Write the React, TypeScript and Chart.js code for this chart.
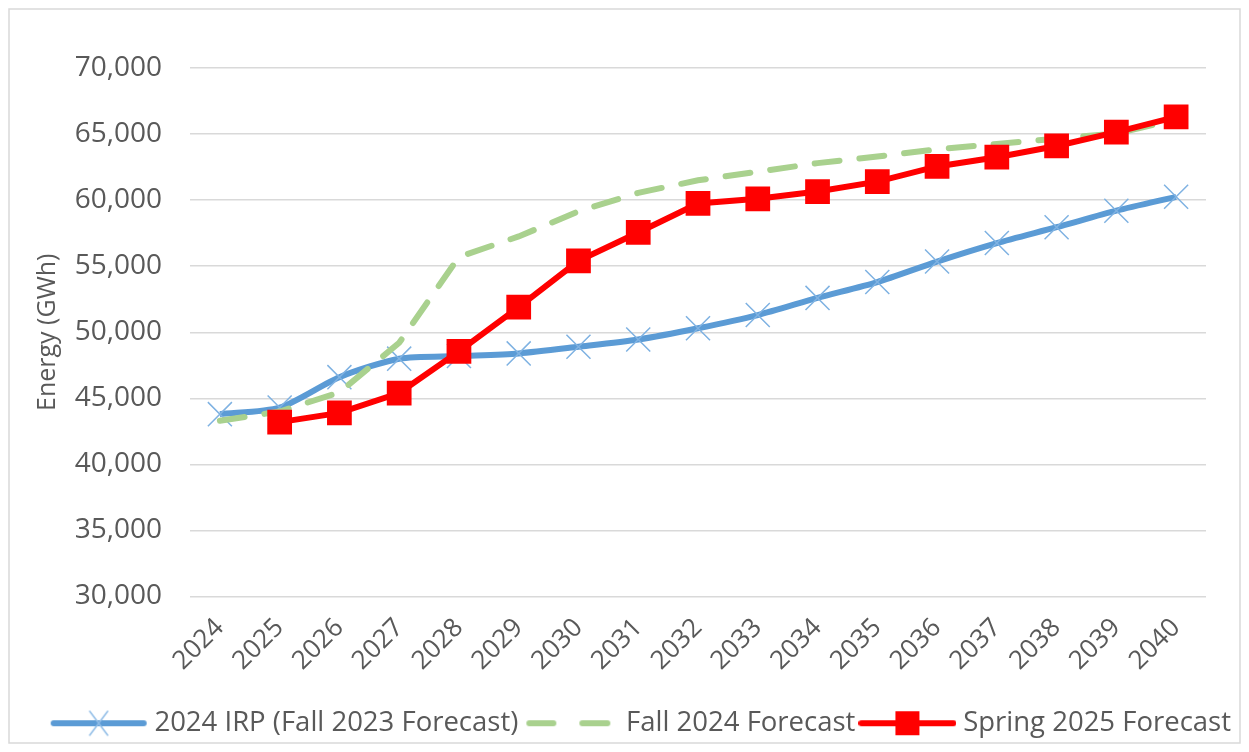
import React, { useEffect, useRef } from "react";
import { Chart, registerables } from "chart.js";

Chart.register(...registerables);

const years = ["2024", "2025", "2026", "2027", "2028", "2029", "2030", "2031", "2032", "2033", "2034", "2035", "2036", "2037", "2038", "2039", "2040"];
const irpFall2023 = [43800, 44300, 46600, 48000, 48200, 48400, 48900, 49450, 50300, 51300, 52600, 53800, 55350, 56750, 57950, 59200, 60250];
const fall2024 = [43300, 44000, 45450, 49200, 55700, 57250, 59150, 60550, 61500, 62150, 62800, 63300, 63850, 64250, 64650, 65050, 66100];
const spring2025 = [null, 43200, 43900, 45400, 48550, 51900, 55400, 57550, 59750, 60100, 60650, 61400, 62550, 63250, 64100, 65150, 66300];

const seriesNames = ["2024 IRP (Fall 2023 Forecast)", "Fall 2024 Forecast", "Spring 2025 Forecast"];
const yMin = 30000;
const yMax = 70000;
const yStep = 5000;
const yTitle = "Energy (GWh)";

const BLUE = "#5b9bd5";
const GREEN = "#a9d18e";
const RED = "#ff0000";
const TEXT = "#595959";
const GRID = "#d9d9d9";
const FONT = "'Open Sans', sans-serif";

function legendImage(kind: string): HTMLCanvasElement {
  const c = document.createElement("canvas");
  c.width = 98;
  c.height = 30;
  const ctx = c.getContext("2d") as CanvasRenderingContext2D;
  ctx.lineCap = "round";
  if (kind === "blue") {
    ctx.strokeStyle = BLUE;
    ctx.lineWidth = 6;
    ctx.beginPath();
    ctx.moveTo(4, 15);
    ctx.lineTo(94, 15);
    ctx.stroke();
    ctx.strokeStyle = "#8fbce6";
    ctx.lineWidth = 1.5;
    ctx.beginPath();
    ctx.moveTo(40, 3);
    ctx.lineTo(58, 27);
    ctx.moveTo(58, 3);
    ctx.lineTo(40, 27);
    ctx.stroke();
  } else if (kind === "green") {
    ctx.strokeStyle = GREEN;
    ctx.lineWidth = 6;
    ctx.beginPath();
    ctx.moveTo(8, 15);
    ctx.lineTo(32, 15);
    ctx.moveTo(61, 15);
    ctx.lineTo(86, 15);
    ctx.stroke();
  } else {
    ctx.strokeStyle = RED;
    ctx.lineWidth = 6;
    ctx.beginPath();
    ctx.moveTo(3, 15);
    ctx.lineTo(95, 15);
    ctx.stroke();
    ctx.fillStyle = RED;
    ctx.fillRect(37, 3, 24, 24);
  }
  return c;
}

const borderPlugin = {
  id: "outerBorder",
  afterDraw(chart: any) {
    const ctx = chart.ctx;
    ctx.save();
    ctx.strokeStyle = GRID;
    ctx.lineWidth = 1.5;
    ctx.strokeRect(1, 1, chart.width - 2, chart.height - 2);
    ctx.restore();
  },
};

export default function App() {
  const ref = useRef<HTMLCanvasElement | null>(null);

  useEffect(() => {
    if (!ref.current) return;
    const imgs = [legendImage("blue"), legendImage("green"), legendImage("red")];
    const chart = new Chart(ref.current, {
      type: "line",
      data: {
        labels: years,
        datasets: [
          {
            label: seriesNames[0],
            data: irpFall2023,
            borderColor: BLUE,
            backgroundColor: BLUE,
            borderWidth: 6,
            tension: 0.25,
            pointStyle: "crossRot",
            pointRadius: 17,
            pointBorderWidth: 1.5,
            pointBorderColor: "#7fb2e2",
            order: 3,
          },
          {
            label: seriesNames[1],
            data: fall2024,
            borderColor: GREEN,
            backgroundColor: GREEN,
            borderWidth: 6,
            borderDash: [25, 20],
            borderCapStyle: "round",
            tension: 0,
            pointRadius: 0,
            order: 2,
          },
          {
            label: seriesNames[2],
            data: spring2025,
            borderColor: RED,
            backgroundColor: RED,
            borderWidth: 6,
            tension: 0,
            pointStyle: "rect",
            pointRadius: 17.5,
            pointBorderWidth: 0,
            pointBackgroundColor: RED,
            order: 1,
          },
        ],
      },
      options: {
        animation: false,
        responsive: false,
        devicePixelRatio: 1,
        layout: { padding: { top: 60, right: 0, bottom: -3, left: 0 } },
        plugins: {
          tooltip: { enabled: false },
          legend: {
            position: "bottom",
            align: "end",
            labels: {
              usePointStyle: true,
              pointStyleWidth: 84,
              padding: 10,
              color: TEXT,
              font: { family: FONT, size: 27.5 },
              generateLabels: (ch: any) => {
                const items = Chart.defaults.plugins.legend.labels.generateLabels(ch);
                return items
                  .slice()
                  .sort((a: any, b: any) => a.datasetIndex - b.datasetIndex)
                  .map((it: any) => ({ ...it, pointStyle: imgs[it.datasetIndex] }));
              },
            },
          },
        },
        scales: {
          x: {
            offset: true,
            grid: { display: false },
            border: { display: false },
            ticks: {
              color: TEXT,
              font: { family: FONT, size: 26 },
              autoSkip: false,
              minRotation: 45,
              maxRotation: 45,
              padding: 8,
            },
            afterFit: (s: any) => {
              s.height = 103;
            },
          },
          y: {
            min: yMin,
            max: yMax,
            border: { display: false },
            grid: { color: GRID, lineWidth: 1.5, drawTicks: false },
            ticks: {
              stepSize: yStep,
              color: TEXT,
              padding: 28,
              font: { family: FONT, size: 28 },
              callback: (v: any) => Number(v).toLocaleString("en-US"),
            },
            title: {
              display: true,
              text: yTitle,
              color: TEXT,
              font: { family: FONT, size: 25 },
              padding: { top: 25, bottom: 0 },
            },
            afterFit: (s: any) => {
              s.width = 182;
            },
          },
          spacer: {
            type: "linear",
            position: "right",
            display: true,
            grid: { display: false, drawTicks: false },
            border: { display: false },
            ticks: { display: false },
            afterFit: (s: any) => {
              s.width = 35;
            },
          },
        },
      },
      plugins: [borderPlugin],
    });
    return () => chart.destroy();
  }, []);

  return (
    <div style={{ width: 1233, height: 736 }}>
      <canvas ref={ref} width={1233} height={736} style={{ display: "block" }} />
    </div>
  );
}
